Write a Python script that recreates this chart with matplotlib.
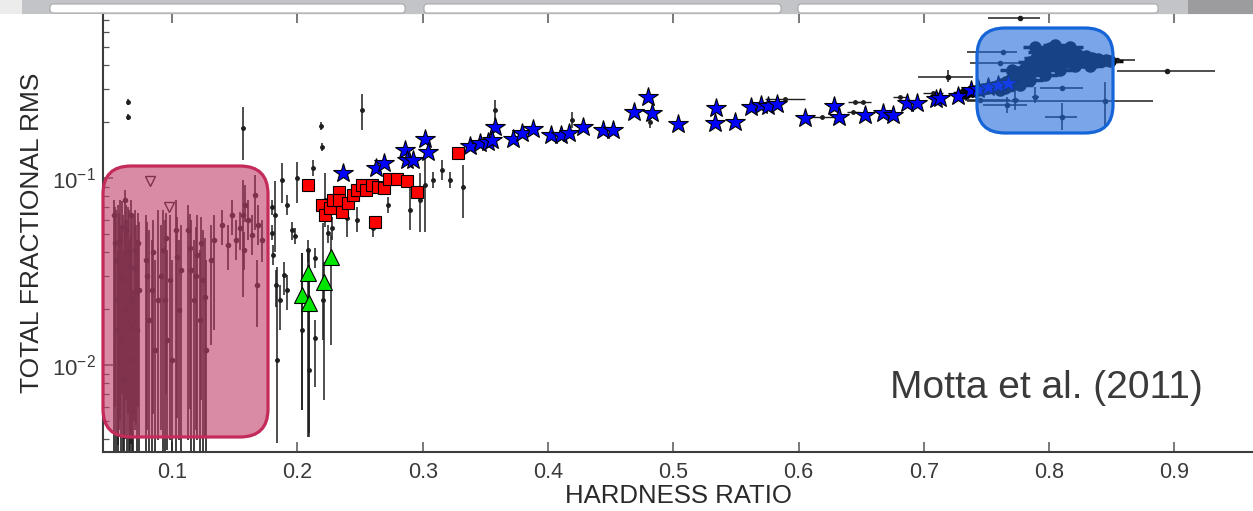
import numpy as np
import matplotlib
matplotlib.use("Agg")
import matplotlib.pyplot as plt
from matplotlib.patches import FancyBboxPatch, Rectangle
from matplotlib.transforms import IdentityTransform

plt.rcParams['font.family'] = ['Liberation Sans', 'DejaVu Sans']

#______________DATA______________
# blue stars
star_x = [0.2365, 0.2628, 0.2692, 0.2860, 0.2875, 0.2923, 0.3019, 0.3043, 0.3378, 0.3458,
          0.3522, 0.3578, 0.3554, 0.3721, 0.3793, 0.3881, 0.4025, 0.4104, 0.4168, 0.4280,
          0.4440, 0.4519, 0.4687, 0.4799, 0.4831, 0.5038, 0.5341, 0.5333, 0.5493, 0.5620,
          0.5700, 0.5756, 0.5828, 0.6052, 0.6283, 0.6323, 0.6531, 0.6674, 0.6754, 0.6866,
          0.6946, 0.7097, 0.7129, 0.7273, 0.7376, 0.7433, 0.7512, 0.7592, 0.7672]
star_y = [0.1063, 0.1131, 0.1203, 0.1412, 0.1248, 0.1248, 0.1616, 0.1377, 0.1483, 0.1539,
          0.1558, 0.1874, 0.1596, 0.1616, 0.1740, 0.1828, 0.1698, 0.1698, 0.1740, 0.1874,
          0.1806, 0.1806, 0.2254, 0.2712, 0.2226, 0.1944, 0.2368, 0.1968, 0.1993, 0.2397,
          0.2457, 0.2427, 0.2487, 0.2094, 0.2427, 0.2120, 0.2173, 0.2226, 0.2173, 0.2518,
          0.2518, 0.2645, 0.2678, 0.2746, 0.2955, 0.2992, 0.3067, 0.3143, 0.3221]

# red squares
sq_x = [0.2085, 0.2197, 0.2221, 0.2261, 0.2285, 0.2333, 0.2333, 0.2357, 0.2405, 0.2444,
        0.2476, 0.2516, 0.2548, 0.2596, 0.2644, 0.2692, 0.2620, 0.2732, 0.2796, 0.2875,
        0.2955, 0.3282]
sq_y = [0.0918, 0.0717, 0.0634, 0.0691, 0.0763, 0.0842, 0.0763, 0.0658, 0.0735, 0.0811,
        0.0863, 0.0918, 0.0863, 0.0918, 0.0895, 0.0884, 0.0582, 0.0988, 0.0988, 0.0964,
        0.0842, 0.1360]

# green triangles with error bounds
tri_x = [0.2037, 0.2085, 0.2093, 0.2213, 0.2269]
tri_y = [0.0237, 0.0310, 0.0215, 0.0278, 0.0378]
tri_lo = [0.00575, 0.00412, 0.00433, 0.0065, 0.0128]
tri_hi = [0.0397, 0.0412, 0.0343, 0.0355, 0.0496]

# soft state points (pink region)
pink_x = [0.0537, 0.0553, 0.0569, 0.0585, 0.0593, 0.0609, 0.0617, 0.0633, 0.0641, 0.0657,
          0.0665, 0.0681, 0.0689, 0.0705, 0.0721, 0.0737, 0.0569, 0.0625, 0.0673, 0.0792,
          0.0816, 0.0840, 0.0864, 0.0888, 0.0928, 0.0944, 0.0960, 0.0984, 0.1000, 0.1032,
          0.1056, 0.1072, 0.1128, 0.1152, 0.1176, 0.1199, 0.1223, 0.1247, 0.1271, 0.1311,
          0.1335, 0.1399, 0.1447, 0.1479, 0.1511, 0.1543, 0.1574, 0.1606, 0.1638, 0.1662,
          0.1686, 0.1718, 0.1582, 0.1678, 0.1566,
          0.0545, 0.0577, 0.0601, 0.0625, 0.0649, 0.0673, 0.0697, 0.0713, 0.0729, 0.0800,
          0.0850, 0.0912, 0.0952, 0.1040, 0.1140, 0.1190, 0.1235, 0.1260]
pink_y = [0.0634, 0.0364, 0.0223, 0.0466, 0.0136, 0.0285, 0.00832, 0.0527, 0.0174, 0.0343,
          0.0106, 0.0223, 0.00575, 0.0412, 0.0154, 0.0252, 0.0154, 0.0763, 0.0634, 0.0364,
          0.0174, 0.0252, 0.0120, 0.0223, 0.0412, 0.0223, 0.0136, 0.0285, 0.0106, 0.0527,
          0.0197, 0.0322, 0.0527, 0.0322, 0.0223, 0.0388, 0.0174, 0.0285, 0.0120, 0.0364,
          0.0466, 0.0561, 0.0438, 0.0634, 0.0466, 0.0540, 0.0412, 0.0596, 0.0496, 0.0811,
          0.0561, 0.0466, 0.0717, 0.0268, 0.0634,
          0.0450, 0.0300, 0.0550, 0.0200, 0.0400, 0.0160, 0.0330, 0.0250, 0.0450, 0.0300,
          0.0400, 0.0300, 0.0480, 0.0380, 0.0420, 0.0300, 0.0450, 0.0230]
pink_lo = [0.0031, 0.0031, 0.0031, 0.00508, 0.0031, 0.0031, 0.0031, 0.0065, 0.0031, 0.0031,
           0.0031, 0.0031, 0.0031, 0.00449, 0.0031, 0.0031, 0.00373, 0.0364, 0.0223, 0.0031,
           0.0031, 0.0031, 0.0031, 0.00397, 0.0031, 0.0031, 0.00351, 0.00397, 0.0031, 0.0033,
           0.00397, 0.0031, 0.00397, 0.0031, 0.0033, 0.00397, 0.0031, 0.0033, 0.0033, 0.0128,
           0.0154, 0.0438, 0.0322, 0.0496, 0.0364, 0.0412, 0.0322, 0.0466, 0.0388, 0.0527,
           0.0438, 0.0355, 0.0582, 0.0160, 0.0231,
           0.0060, 0.0045, 0.0070, 0.0040, 0.0055, 0.0038, 0.0050, 0.0048, 0.0060, 0.0045,
           0.0055, 0.0045, 0.0070, 0.0052, 0.0058, 0.0045, 0.0065, 0.0042]
pink_hi = [0.0763, 0.0674, 0.0717, 0.0763, 0.0527, 0.0634, 0.0412, 0.0717, 0.0596, 0.0674,
           0.0466, 0.0634, 0.0252, 0.0674, 0.0466, 0.0582, 0.0412, 0.0863, 0.0763, 0.0634,
           0.0527, 0.0466, 0.0364, 0.0674, 0.0674, 0.0596, 0.0412, 0.0634, 0.0364, 0.0763,
           0.0466, 0.0561, 0.0717, 0.0596, 0.0466, 0.0634, 0.0412, 0.0527, 0.0364, 0.0561,
           0.0634, 0.0674, 0.0561, 0.0763, 0.0596, 0.0658, 0.0514, 0.0763, 0.0634, 0.1038,
           0.0717, 0.0596, 0.0918, 0.0364, 0.0976,
           0.0700, 0.0650, 0.0750, 0.0600, 0.0700, 0.0500, 0.0620, 0.0560, 0.0650, 0.0580,
           0.0600, 0.0560, 0.0650, 0.0620, 0.0640, 0.0550, 0.0620, 0.0480]

# upper limits (open triangles)
lim_x = [0.0825, 0.0976]
lim_y = [0.0964, 0.0700]

# other small black points, vertical error bounds
pts_x = [0.0649, 0.0649, 0.1566, 0.2189, 0.2197, 0.2516, 0.1877, 0.1997, 0.2125, 0.2221,
         0.2277, 0.2397, 0.2476, 0.2604, 0.2724, 0.2900, 0.2979, 0.3019, 0.3155, 0.3218,
         0.3083, 0.3322, 0.3578, 0.4192, 0.4815, 0.1838, 0.1806, 0.1798, 0.1798, 0.1830,
         0.1862, 0.1894, 0.1918, 0.1958, 0.1982, 0.2093, 0.2037, 0.2144, 0.2205, 0.2085,
         0.2144, 0.2245, 0.1918, 0.1822]
pts_y = [0.2549, 0.2120, 0.1851, 0.1897, 0.1465, 0.2310, 0.0976, 0.1000, 0.1131, 0.0763,
         0.0540, 0.0611, 0.0596, 0.0540, 0.0717, 0.0674, 0.0763, 0.0918, 0.1104, 0.0976,
         0.0976, 0.0895, 0.2310, 0.2043, 0.1993, 0.0106, 0.0388, 0.0700, 0.0508, 0.0268,
         0.0223, 0.0303, 0.0252, 0.0527, 0.0490, 0.0094, 0.0154, 0.0140, 0.0223, 0.0412,
         0.0374, 0.0508, 0.0717, 0.0634]
pts_lo = [0.2450, 0.2040, 0.1248, 0.1806, 0.1394, 0.1806, 0.0735, 0.0735, 0.1025, 0.0547,
          0.0466, 0.0484, 0.0514, 0.0484, 0.0650, 0.0527, 0.0514, 0.0514, 0.0976, 0.0884,
          0.0884, 0.0611, 0.2043, 0.1851, 0.1851, 0.00383, 0.0343, 0.0634, 0.0466, 0.0204,
          0.0154, 0.0237, 0.0197, 0.0466, 0.0444, 0.00412, 0.00575, 0.00763, 0.0136, 0.0355,
          0.0329, 0.0449, 0.0634, 0.0400]
pts_hi = [0.2650, 0.2200, 0.2397, 0.1993, 0.1539, 0.2812, 0.1203, 0.1218, 0.1248, 0.1063,
          0.0619, 0.0763, 0.0700, 0.0596, 0.0791, 0.0940, 0.1063, 0.1412, 0.1248, 0.1077,
          0.1077, 0.1173, 0.2613, 0.2254, 0.2173, 0.0334, 0.0438, 0.0763, 0.0561, 0.0322,
          0.0268, 0.0355, 0.0303, 0.0582, 0.0540, 0.0412, 0.0397, 0.0174, 0.0575, 0.0466,
          0.0422, 0.0561, 0.0811, 0.0960]

# small points along the star chain, horizontal half widths
chain_x = [0.5892, 0.6188, 0.6435, 0.6451, 0.6515, 0.6810, 0.7073]
chain_y = [0.2645, 0.2120, 0.2254, 0.2549, 0.2549, 0.2712, 0.2848]
chain_dx = [0.016, 0.010, 0.005, 0.006, 0.006, 0.006, 0.008]

# hard state points with wide error bars
hz_x = [0.7768, 0.7632, 0.7608, 0.8103, 0.7888, 0.7664, 0.7728, 0.8103, 0.8446, 0.8542,
        0.8942, 0.7192, 0.7449]
hz_y = [0.7170, 0.4718, 0.4121, 0.3030, 0.2712, 0.2457, 0.2613, 0.2120, 0.2581, 0.4276,
        0.3735, 0.3468, 0.2613]
hz_xlo = [0.7512, 0.7345, 0.7369, 0.7928, 0.7860, 0.7472, 0.7700, 0.7967, 0.7345, 0.8406,
          0.8542, 0.6954, 0.7329]
hz_xhi = [0.7928, 0.7744, 0.7928, 0.8271, 0.7916, 0.7824, 0.7756, 0.8223, 0.8829, 0.8686,
          0.9324, 0.7392, 0.7688]
hz_ylo = [0.700, 0.460, 0.400, 0.295, 0.2518, 0.2226, 0.2310, 0.1806, 0.1851, 0.420,
          0.365, 0.3261, 0.255]
hz_yhi = [0.735, 0.480, 0.420, 0.310, 0.3067, 0.2712, 0.2955, 0.2518, 0.3261, 0.435,
          0.380, 0.3781, 0.268]

# dense hard state cluster
clu_x = [0.7329, 0.7385, 0.7433, 0.7472, 0.7512, 0.7552, 0.7584, 0.7624, 0.7656, 0.7688,
         0.7648, 0.7608, 0.7728, 0.7752, 0.7784, 0.7808, 0.7832, 0.7848, 0.7872, 0.7896,
         0.7912, 0.7928, 0.7951, 0.7975, 0.7991, 0.8007, 0.8023, 0.8047, 0.8071, 0.8087,
         0.8111, 0.8135, 0.8151, 0.8175, 0.8199, 0.8223, 0.8247, 0.8271, 0.8295, 0.8319,
         0.8343, 0.8367, 0.8391, 0.8422, 0.8454, 0.8486, 0.7848, 0.7967, 0.8087, 0.8207,
         0.8327, 0.7768, 0.7704, 0.7888, 0.8047, 0.8167]
clu_y = [0.2848, 0.2919, 0.2955, 0.2992, 0.3030, 0.3067, 0.3105, 0.3182, 0.3261, 0.3342,
         0.3030, 0.2955, 0.3426, 0.3689, 0.3512, 0.3875, 0.3689, 0.4172, 0.3972, 0.4382,
         0.3781, 0.4718, 0.4172, 0.4491, 0.3972, 0.4956, 0.4276, 0.4603, 0.4071, 0.4836,
         0.4382, 0.4718, 0.4172, 0.4491, 0.4276, 0.4603, 0.4382, 0.4172, 0.4491, 0.4276,
         0.4382, 0.4172, 0.4328, 0.4223, 0.4276, 0.4223, 0.3342, 0.3555, 0.3781, 0.3972,
         0.3972, 0.3143, 0.3781, 0.5018, 0.5143, 0.5018]

xticks = [0.1, 0.2, 0.3, 0.4, 0.5, 0.6, 0.7, 0.8, 0.9]

#______________FIGURE______________
W, H = 1253, 511
fig = plt.figure(figsize=(W / 100, H / 100), dpi=100)
ax = fig.add_axes([103 / W, 59 / H, 1150 / W, 438.5 / H])
ax.set_yscale('log')

ecol = '#1e1e1e'
px = np.array(pink_x); py = np.array(pink_y)
ax.errorbar(px, py, yerr=[py - np.array(pink_lo), np.array(pink_hi) - py],
            fmt='o', ms=3, color=ecol, elinewidth=1.2, capsize=0, zorder=2)
ax.plot(lim_x, lim_y, 'v', ms=7, mfc='none', mec=ecol, mew=1.0, zorder=2)

qx = np.array(pts_x); qy = np.array(pts_y)
ax.errorbar(qx, qy, yerr=[qy - np.array(pts_lo), np.array(pts_hi) - qy],
            fmt='o', ms=2.5, color=ecol, elinewidth=1.1, capsize=0, zorder=2)
ax.errorbar(chain_x, chain_y, xerr=chain_dx, fmt='o', ms=2.5, color=ecol,
            elinewidth=1.0, capsize=0, zorder=2)

hx = np.array(hz_x); hy = np.array(hz_y)
ax.errorbar(hx, hy, xerr=[hx - np.array(hz_xlo), np.array(hz_xhi) - hx],
            yerr=[hy - np.array(hz_ylo), np.array(hz_yhi) - hy],
            fmt='o', ms=3, color=ecol, elinewidth=1.1, capsize=0, zorder=2)
ax.errorbar(clu_x, clu_y, xerr=0.010, yerr=0.010, fmt='o', ms=8, color='#0a0a0a',
            elinewidth=2.5, capsize=0, zorder=2)

tx = np.array(tri_x); ty = np.array(tri_y)
ax.errorbar(tx, ty, yerr=[ty - np.array(tri_lo), np.array(tri_hi) - ty],
            fmt='none', ecolor=ecol, elinewidth=1.1, capsize=0, zorder=2)
ax.plot(sq_x, sq_y, 's', ms=8, mfc='#ff0000', mec='black', mew=0.8, zorder=3)
ax.plot(tri_x, tri_y, '^', ms=11, mfc='#00e600', mec='black', mew=0.8, zorder=3)
ax.plot(star_x, star_y, '*', ms=15, mfc='#0000ff', mec='black', mew=0.8, zorder=4)

ax.set_xlim(0.04493, 0.96265)
ax.set_ylim(0.003428, 0.758)
ax.set_xticks(xticks)
ax.set_xticklabels(['%.1f' % t for t in xticks])

ax.spines['right'].set_visible(False)
for s in ['left', 'bottom', 'top']:
    ax.spines[s].set_linewidth(1.5)
    ax.spines[s].set_color('#3c3c3c')
ax.tick_params(axis='x', which='major', direction='in', top=True, length=7,
               width=1.1, colors='#555555', labelcolor='#3a3a3a', labelsize=15.5, pad=7)
ax.tick_params(axis='y', which='major', direction='in', length=7, width=1.1,
               colors='#555555', labelcolor='#3a3a3a', labelsize=16, pad=5)
ax.tick_params(axis='y', which='minor', direction='in', length=4, width=0.9,
               colors='#555555')

ax.set_xlabel('HARDNESS RATIO', fontsize=18.5, color='#2a2a2a', labelpad=1)
ax.set_ylabel('TOTAL FRACTIONAL RMS', fontsize=19, color='#2a2a2a', labelpad=6)

fig.text(1046 / W, 1 - 388 / H, 'Motta et al. (2011)', fontsize=28,
         color='#3a3a3a', ha='center', va='center')

# highlight boxes, in pixel coordinates
ident = IdentityTransform()
fig.add_artist(FancyBboxPatch((103, H - 437), 165, 271,
                              boxstyle='round,pad=0,rounding_size=28',
                              transform=ident, facecolor='#c03e6b', alpha=0.6,
                              edgecolor='none', zorder=5))
fig.add_artist(FancyBboxPatch((103, H - 437), 165, 271,
                              boxstyle='round,pad=0,rounding_size=28',
                              transform=ident, facecolor='none',
                              edgecolor='#c42a5a', lw=2.3, zorder=6))
fig.add_artist(FancyBboxPatch((977, H - 133), 136, 105,
                              boxstyle='round,pad=0,rounding_size=28',
                              transform=ident, facecolor='#2169d9', alpha=0.6,
                              edgecolor='none', zorder=5))
fig.add_artist(FancyBboxPatch((977, H - 133), 136, 105,
                              boxstyle='round,pad=0,rounding_size=28',
                              transform=ident, facecolor='none',
                              edgecolor='#1565d8', lw=2.3, zorder=6))

# slide strip at the top
fig.add_artist(Rectangle((0, H - 14), W, 14, transform=ident,
                         facecolor='#c3c4c8', edgecolor='none', zorder=7))
fig.add_artist(Rectangle((0, H - 14), 22, 14, transform=ident,
                         facecolor='#ececec', edgecolor='none', zorder=7))
fig.add_artist(Rectangle((1188, H - 14), W - 1188, 14, transform=ident,
                         facecolor='#9c9c9e', edgecolor='none', zorder=7))
for x0, x1 in [(50, 405), (424, 781), (798, 1158)]:
    fig.add_artist(FancyBboxPatch((x0, H - 13), x1 - x0, 9,
                                  boxstyle='round,pad=0,rounding_size=3',
                                  transform=ident, facecolor='white',
                                  edgecolor='#a8a8ac', lw=0.8, zorder=8))

fig.savefig('out.png', dpi=100)
